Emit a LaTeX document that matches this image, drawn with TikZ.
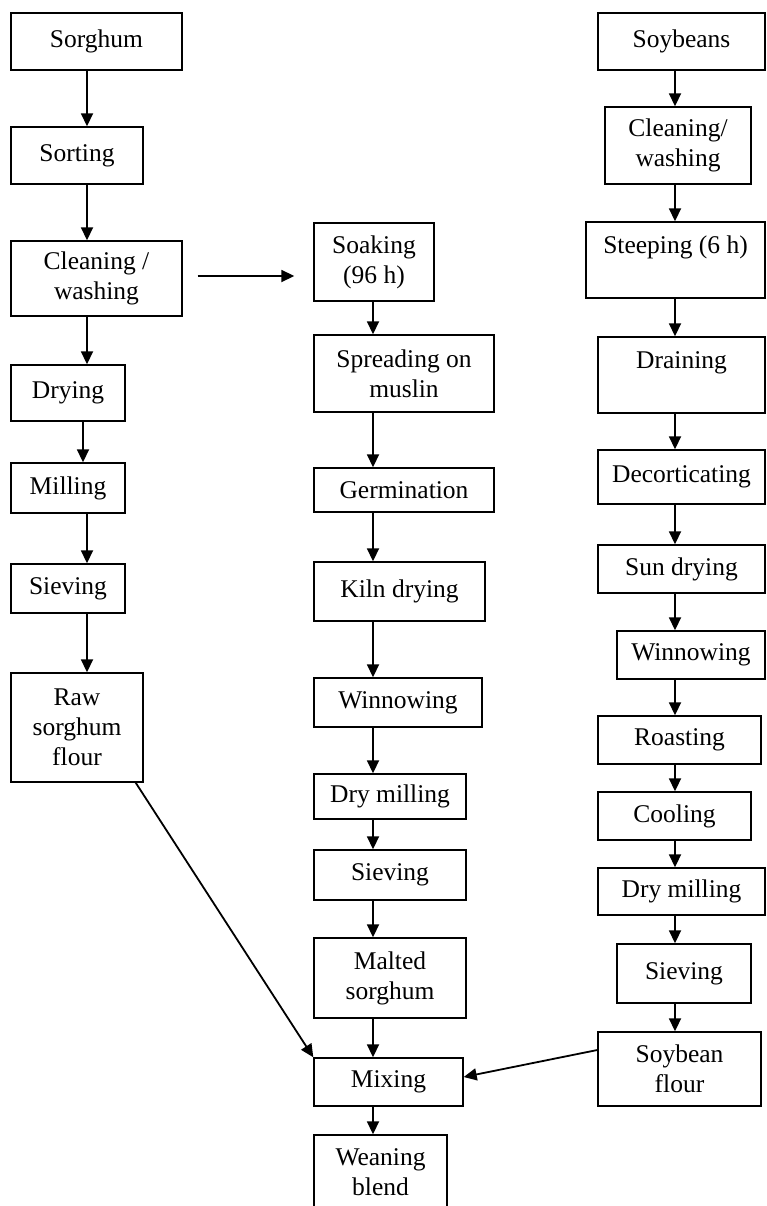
\documentclass[tikz,border=0pt]{standalone}
\usepackage{fontspec}
\setmainfont{Liberation Serif}
\usetikzlibrary{arrows.meta,calc}
\tikzset{
  box/.style={draw, line width=1.4pt, inner sep=0pt, align=center,
    font=\fontsize{25.5}{30}\selectfont},
  arr/.style={line width=1.8pt, -{Triangle[length=13pt,width=12pt]}}
}
\newcommand\bx[6]{\node[box, minimum width={(#4)-(#2)}, minimum height={(#5)-(#3)}]
  (#1) at ({((#2)+(#4))/2},{((#3)+(#5))/2}) {#6};}
\begin{document}
\begin{tikzpicture}[x=1pt,y=-1pt]
\useasboundingbox (0,0) rectangle (766,1206);
\fill[white] (0,0) rectangle (766,1206);
% left column
\bx{sorghum}{11}{13}{182}{70}{Sorghum}
\bx{sorting}{11}{127}{143}{184}{Sorting}
\bx{cw}{11}{241}{182}{316}{Cleaning /\\washing}
\bx{drying}{11}{365}{125}{421}{Drying}
\bx{milling}{11}{463}{125}{513}{Milling}
\bx{sievea}{11}{564}{125}{613}{Sieving}
\bx{raw}{11}{673}{143}{782}{Raw\\sorghum\\flour}
% middle column
\bx{soak}{314}{223}{434}{301}{Soaking\\(96 h)}
\bx{spread}{314}{335}{494}{412}{Spreading on\\muslin}
\bx{germ}{314}{468}{494}{512}{Germination}
\bx{kiln}{314}{562}{485}{621}{Kiln drying}
\bx{winna}{314}{678}{482}{727}{Winnowing}
\bx{dmilla}{314}{774}{466}{819}{Dry milling}
\bx{sieveb}{314}{850}{466}{900}{Sieving}
\bx{malt}{314}{938}{466}{1018}{Malted\\sorghum}
\bx{mix}{314}{1058}{463}{1106}{Mixing}
\bx{wean}{314}{1135}{447}{1210}{Weaning\\blend}
% right column
\bx{soy}{598}{13}{765}{70}{Soybeans}
\bx{cwb}{605}{107}{751}{184}{Cleaning/\\washing}
\bx{steep}{586}{222}{765}{298}{Steeping (6 h)\\ \mbox{}}
\bx{drain}{598}{337}{765}{413}{Draining\\ \mbox{}}
\bx{dec}{598}{450}{765}{504}{Decorticating}
\bx{sun}{598}{545}{765}{593}{Sun drying}
\bx{winnb}{617}{631}{765}{679}{Winnowing}
\bx{roast}{598}{716}{761}{764}{Roasting}
\bx{cool}{598}{792}{751}{840}{Cooling}
\bx{dmillb}{598}{868}{765}{915}{Dry milling}
\bx{sievec}{617}{944}{751}{1003}{Sieving}
\bx{sf}{598}{1032}{761}{1106}{Soybean\\flour}
% column axes
\coordinate (cL) at (87,0);
\coordinate (cL2) at (83,0);
\coordinate (cM) at (373,0);
\coordinate (cR) at (675,0);
% left arrows
\draw[arr] (sorghum.south -| cL) -- (sorting.north -| cL);
\draw[arr] (sorting.south -| cL) -- (cw.north -| cL);
\draw[arr] (cw.south -| cL) -- (drying.north -| cL);
\draw[arr] (drying.south -| cL2) -- (milling.north -| cL2);
\draw[arr] (milling.south -| cL) -- (sievea.north -| cL);
\draw[arr] (sievea.south -| cL) -- (raw.north -| cL);
% middle arrows
\draw[arr] ([xshift=15pt,yshift=2.5pt]cw.east) -- ([xshift=-19pt,yshift=2.5pt]cw.east -| soak.west);
\draw[arr] (soak.south -| cM) -- (spread.north -| cM);
\draw[arr] (spread.south -| cM) -- (germ.north -| cM);
\draw[arr] (germ.south -| cM) -- (kiln.north -| cM);
\draw[arr] (kiln.south -| cM) -- (winna.north -| cM);
\draw[arr] (winna.south -| cM) -- (dmilla.north -| cM);
\draw[arr] (dmilla.south -| cM) -- (sieveb.north -| cM);
\draw[arr] (sieveb.south -| cM) -- (malt.north -| cM);
\draw[arr] (malt.south -| cM) -- (mix.north -| cM);
\draw[arr] (mix.south -| cM) -- (wean.north -| cM);
% right arrows
\draw[arr] (soy.south -| cR) -- (cwb.north -| cR);
\draw[arr] (cwb.south -| cR) -- (steep.north -| cR);
\draw[arr] (steep.south -| cR) -- (drain.north -| cR);
\draw[arr] (drain.south -| cR) -- (dec.north -| cR);
\draw[arr] (dec.south -| cR) -- (sun.north -| cR);
\draw[arr] (sun.south -| cR) -- (winnb.north -| cR);
\draw[arr] (winnb.south -| cR) -- (roast.north -| cR);
\draw[arr] (roast.south -| cR) -- (cool.north -| cR);
\draw[arr] (cool.south -| cR) -- (dmillb.north -| cR);
\draw[arr] (dmillb.south -| cR) -- (sievec.north -| cR);
\draw[arr] (sievec.south -| cR) -- (sf.north -| cR);
% joins
\draw[arr] ([xshift=-8pt]raw.south east) -- (mix.north west);
\draw[arr] ([yshift=19pt]sf.west) -- ([yshift=5pt]mix.east);
\end{tikzpicture}
\end{document}
